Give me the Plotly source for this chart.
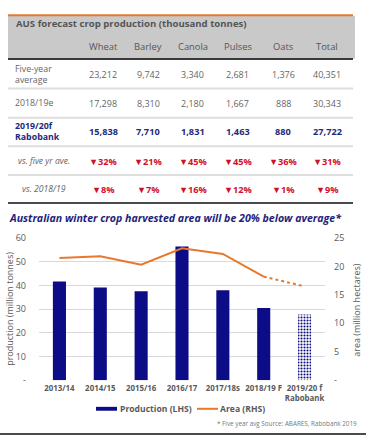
import plotly.graph_objects as go

# ---------------- data ----------------
crops = ["Wheat", "Barley", "Canola", "Pulses", "Oats", "Total"]
five_year_avg = [23212, 9742, 3340, 2681, 1376, 40351]
est_2018_19 = [17298, 8310, 2180, 1667, 888, 30343]
fc_2019_20 = [15838, 7710, 1831, 1463, 880, 27722]
vs_five_year = [32, 21, 45, 45, 36, 31]
vs_2018_19 = [8, 7, 16, 12, 1, 9]

seasons = ["2013/14", "2014/15", "2015/16", "2016/17", "2017/18s", "2018/19 F", "2019/20 f<br>Rabobank"]
production = [41.6, 39.1, 37.5, 56.4, 37.9, 30.5, 27.7]   # million tonnes (LHS)
area = [21.5, 21.8, 20.3, 23.2, 22.2, 18.2, 16.5]          # million hectares (RHS)

left_ticks = [0, 10, 20, 30, 40, 50, 60]
right_ticks = [0, 5, 10, 15, 20, 25]

# ---------------- layout helpers ----------------
W, H = 369, 441
FONT = "Open Sans"
NAVY = "#0c0c86"
ORANGE = "#e8782c"
RED = "#d0102a"
GRAY = "#5a5a5a"


def px(x):
    return x / W


def py(y):
    return 1 - y / H


annotations = []
shapes = []


def ann(text, x, y, size=9, color=GRAY, xanchor="center"):
    annotations.append(dict(
        text=text, x=px(x), y=py(y), xref="paper", yref="paper",
        xanchor=xanchor, yanchor="middle", showarrow=False,
        font=dict(family=FONT, size=size, color=color), align="left" if xanchor == "left" else "center",
    ))


def hline(y, x0, x1, color, width):
    shapes.append(dict(type="line", xref="paper", yref="paper",
                       x0=px(x0), x1=px(x1), y0=py(y), y1=py(y),
                       line=dict(color=color, width=width)))


# ---------------- table ----------------
shapes.append(dict(type="rect", xref="paper", yref="paper", x0=px(8), x1=px(355), y0=py(53), y1=py(9),
                   fillcolor="#c9c9c9", line=dict(width=0), layer="below"))
hline(8.5, 8, 353, ORANGE, 2)
hline(53.5, 8, 353, "#3a3a3a", 2)
for yy in [84, 114, 143.5, 173]:
    hline(yy, 8, 353, "#dedede", 2)
hline(202, 8, 353, "#111111", 1.5)
hline(440, 0, 366, "#111111", 1.5)

col_x = [103, 148, 193, 238, 283, 327]
ann("<b>AUS forecast crop production (thousand tonnes)</b>", 14, 17.5, 9.6, "#555555", "left")
for cx, c in zip(col_x, crops):
    ann(c, cx, 41, 9.4, "#555555")

ann("Five-year<br>average", 13, 70, 8.8, "#666666", "left")
ann("2018/19e", 13, 99, 8.8, "#666666", "left")
ann("<b>2019/20f<br>Rabobank</b>", 13, 128.5, 8.8, "#1f2a7c", "left")
ann("<i>vs. five yr ave.</i>", 44, 159, 8.6, "#666666")
ann("<i>vs. 2018/19</i>", 44, 188, 8.6, "#666666")

for cx, a, b, c, d, e in zip(col_x, five_year_avg, est_2018_19, fc_2019_20, vs_five_year, vs_2018_19):
    ann(f"{a:,}", cx, 70, 9, "#666666")
    ann(f"{b:,}", cx, 99, 9, "#666666")
    ann(f"<b>{c:,}</b>", cx, 128.5, 9.2, "#1f2a7c")
    ann(f"<b>▼{d}%</b>", cx, 159, 9.2, RED)
    ann(f"<b>▼{e}%</b>", cx, 188, 9.2, RED)

# ---------------- chart ----------------
ann("<b><i>Australian winter crop harvested area will be 20% below average*</i></b>", 7, 217, 10.6, "#1e1e7c", "left")

fig = go.Figure()
fig.add_trace(go.Bar(
    x=seasons, y=production, name="Production (LHS)", width=0.32,
    marker=dict(
        color=[NAVY] * len(seasons),
        line=dict(width=0),
        pattern=dict(shape=[""] * (len(seasons) - 1) + ["."], fgcolor="#ffffff", bgcolor=NAVY,
                     size=3, solidity=0.4, fillmode="replace"),
    ),
    showlegend=False,
))
fig.add_trace(go.Scatter(
    x=seasons[:-1], y=area[:-1], yaxis="y2", mode="lines",
    line=dict(color=ORANGE, width=2), showlegend=False,
))
fig.add_trace(go.Scatter(
    x=seasons[-2:], y=area[-2:], yaxis="y2", mode="lines",
    line=dict(color=ORANGE, width=2, dash="dot"), showlegend=False,
))

# manual legend
shapes.append(dict(type="rect", xref="paper", yref="paper", x0=px(96), x1=px(117), y0=py(416), y1=py(412),
                   fillcolor=NAVY, line=dict(width=0)))
ann("<b>Production (LHS)</b>", 118, 414, 8.6, GRAY, "left")
hline(414, 197, 218, ORANGE, 2)
ann("<b>Area (RHS)</b>", 218, 414, 8.6, GRAY, "left")

annotations.append(dict(text="* Five year avg Source: ABARES, Rabobank 2019", x=px(359), y=py(429),
                        xref="paper", yref="paper", xanchor="right", yanchor="middle", showarrow=False,
                        font=dict(family=FONT, size=6.3, color="#777777")))

# axis titles
annotations.append(dict(text="production (million tonnes)", x=px(10), y=py(311), xref="paper", yref="paper",
                        textangle=-90, showarrow=False, xanchor="center", yanchor="middle",
                        font=dict(family=FONT, size=9, color=GRAY)))
annotations.append(dict(text="area (million hectares)", x=px(357), y=py(312), xref="paper", yref="paper",
                        textangle=-90, showarrow=False, xanchor="center", yanchor="middle",
                        font=dict(family=FONT, size=9, color=GRAY)))

fig.update_layout(
    width=W, height=H, margin=dict(l=0, r=0, t=0, b=0),
    paper_bgcolor="white", plot_bgcolor="white",
    font=dict(family=FONT, size=9, color=GRAY),
    showlegend=False,
    xaxis=dict(domain=[px(39), px(325)], showgrid=False, zeroline=False, showline=False,
               tickfont=dict(family=FONT, size=7.9, color=GRAY), ticks="", tickangle=0,
               tickvals=seasons, ticktext=[f"<b>{s}</b>" for s in seasons], ticklabelstandoff=2),
    yaxis=dict(domain=[py(384.5), py(238)], range=[0, 60], tickvals=left_ticks,
               ticktext=["-"] + [str(t) for t in left_ticks[1:]],
               showgrid=True, gridcolor="#d9d9d9", gridwidth=1, zeroline=False, showline=False,
               tickfont=dict(family=FONT, size=9, color=GRAY), ticks="", ticklabelstandoff=12),
    yaxis2=dict(overlaying="y", side="right", range=[0, 25], tickvals=right_ticks,
                ticktext=["-"] + [str(t) for t in right_ticks[1:]],
                showgrid=False, zeroline=False, showline=False,
                tickfont=dict(family=FONT, size=9, color=GRAY), ticks="", ticklabelstandoff=8),
    annotations=annotations, shapes=shapes,
)

fig.write_html(
    "out.html",
    config={"displayModeBar": False},
    post_script="document.body.style.margin='0';document.body.style.padding='0';document.body.style.overflow='hidden';",
)
